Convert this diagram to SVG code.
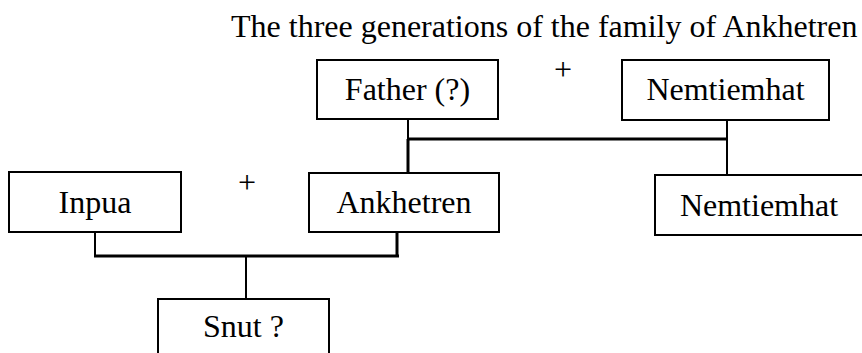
<svg xmlns="http://www.w3.org/2000/svg" width="862" height="353" viewBox="0 0 862 353">
<style>
.box{fill:#fff;stroke:#000;stroke-width:2}
.t{font-family:"Liberation Serif","Times New Roman",serif;font-size:32px;fill:#000;text-anchor:middle}
.thin{stroke:#000;stroke-width:2;fill:none}
.thick{stroke:#000;stroke-width:3;fill:none}
</style>
<rect width="862" height="353" fill="#fff"/>
<text class="t" x="231" y="37" style="text-anchor:start">The three generations of the family of Ankhetren</text>
<g id="connectors">
<line class="thin" x1="408" y1="119" x2="408" y2="139"/>
<line class="thick" x1="408" y1="139" x2="727" y2="139"/>
<line class="thick" x1="408" y1="139" x2="408" y2="173"/>
<line class="thin" x1="727" y1="120" x2="727" y2="175"/>
<line class="thin" x1="95" y1="232" x2="95" y2="257"/>
<line class="thick" x1="94" y1="256" x2="399" y2="256"/>
<line class="thick" x1="397" y1="232" x2="397" y2="257"/>
<line class="thin" x1="246" y1="256" x2="246" y2="299"/>
</g>
<g id="father"><rect class="box" x="317" y="60" width="181" height="59"/><text class="t" x="407.5" y="100">Father (?)</text></g>
<g id="plus-top"><text class="t" x="563" y="80">+</text></g>
<g id="nemtiemhat-mother"><rect class="box" x="622" y="60" width="207" height="60"/><text class="t" x="725.5" y="100">Nemtiemhat</text></g>
<g id="inpua"><rect class="box" x="9" y="172" width="172" height="60"/><text class="t" x="95" y="213">Inpua</text></g>
<g id="plus-mid"><text class="t" x="247" y="193">+</text></g>
<g id="ankhetren"><rect class="box" x="309" y="173" width="190" height="59"/><text class="t" x="404" y="213">Ankhetren</text></g>
<g id="nemtiemhat-daughter"><rect class="box" x="655" y="175" width="208" height="60"/><text class="t" x="759" y="216">Nemtiemhat</text></g>
<g id="snut"><rect class="box" x="158" y="299" width="171" height="60"/><text class="t" x="243.5" y="337">Snut ?</text></g>
</svg>
